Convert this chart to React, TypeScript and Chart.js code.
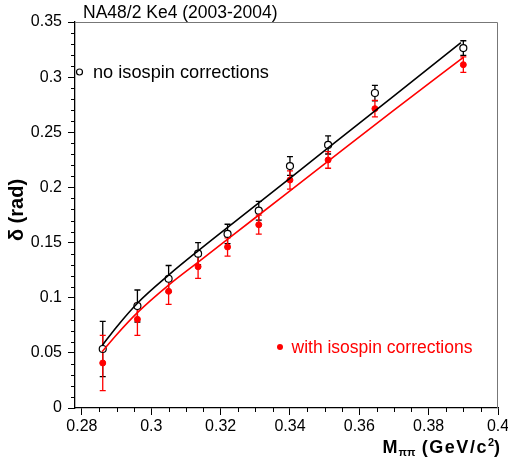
import React, { useEffect, useRef } from "react";
import { Chart, registerables } from "chart.js";
Chart.register(...registerables);

// ---- data ----
const massPoints = [0.286, 0.296, 0.305, 0.3135, 0.322, 0.331, 0.34, 0.351, 0.3645, 0.39];
const deltaNoIso = [0.0535, 0.0925, 0.1172, 0.1399, 0.1578, 0.1789, 0.2194, 0.2385, 0.2856, 0.3264];
const errNoIso = [0.025, 0.0145, 0.012, 0.01, 0.0088, 0.0085, 0.0085, 0.0082, 0.007, 0.0066];
const deltaIso = [0.0408, 0.0804, 0.1058, 0.1281, 0.146, 0.1662, 0.2067, 0.2249, 0.2714, 0.3113];
const errIso = [0.025, 0.0145, 0.0118, 0.0105, 0.0083, 0.0086, 0.0083, 0.0075, 0.0075, 0.007];

const fitNoIsoX = [0.2858, 0.29, 0.296, 0.305, 0.3135, 0.33, 0.35, 0.37, 0.3893];
const fitNoIsoY = [0.0565, 0.0735, 0.095, 0.1205, 0.1425, 0.1835, 0.2333, 0.283, 0.3312];
const fitIsoX = [0.2858, 0.29, 0.296, 0.305, 0.314, 0.33, 0.35, 0.37, 0.39];
const fitIsoY = [0.051, 0.0665, 0.0865, 0.1115, 0.1335, 0.1725, 0.2213, 0.27, 0.318];

const xMajorTicks = [0.28, 0.3, 0.32, 0.34, 0.36, 0.38, 0.4];
const yMajorTicks = [0, 0.05, 0.1, 0.15, 0.2, 0.25, 0.3, 0.35];

const titleText = "NA48/2 Ke4 (2003-2004)";
const legendNoIso = "no isospin corrections";
const legendIso = "with isospin corrections";
const yTitle = "δ (rad)";

const FONT = "'Liberation Sans', Arial, Helvetica, sans-serif";

const decorPlugin = {
  id: "decor",
  beforeDatasetsDraw(chart: any) {
    const ctx = chart.ctx;
    const xs = chart.scales.x;
    const ys = chart.scales.y;
    ctx.save();
    const drawErr = (vals: number[], errs: number[], color: string) => {
      ctx.strokeStyle = color;
      ctx.lineWidth = 1.3;
      massPoints.forEach((m, i) => {
        const px = xs.getPixelForValue(m);
        const top = ys.getPixelForValue(vals[i] + errs[i]);
        const bot = ys.getPixelForValue(vals[i] - errs[i]);
        ctx.beginPath();
        ctx.moveTo(px, top);
        ctx.lineTo(px, bot);
        ctx.moveTo(px - 3, top);
        ctx.lineTo(px + 3, top);
        ctx.moveTo(px - 3, bot);
        ctx.lineTo(px + 3, bot);
        ctx.stroke();
      });
    };
    drawErr(deltaNoIso, errNoIso, "#000");
    drawErr(deltaIso, errIso, "#ff0000");
    ctx.restore();
  },
  afterDraw(chart: any) {
    const ctx = chart.ctx;
    const a = chart.chartArea;
    const xs = chart.scales.x;
    const ys = chart.scales.y;
    ctx.save();
    // frame top/right
    ctx.strokeStyle = "#777";
    ctx.lineWidth = 1;
    ctx.beginPath();
    ctx.moveTo(a.left, a.top + 0.5);
    ctx.lineTo(a.right - 0.5, a.top + 0.5);
    ctx.lineTo(a.right - 0.5, a.bottom);
    ctx.stroke();
    // minor ticks
    ctx.strokeStyle = "#000";
    ctx.beginPath();
    for (let i = 0; i <= 24; i++) {
      if (i % 4 === 0) continue;
      const v = 0.28 + i * 0.005;
      const px = Math.round(xs.getPixelForValue(v)) + 0.5;
      ctx.moveTo(px, a.bottom);
      ctx.lineTo(px, a.bottom + 4);
    }
    for (let i = 0; i <= 35; i++) {
      if (i % 5 === 0) continue;
      const v = i * 0.01;
      const py = Math.round(ys.getPixelForValue(v)) + 0.5;
      ctx.moveTo(a.left, py);
      ctx.lineTo(a.left - 4, py);
    }
    ctx.stroke();

    // title
    ctx.fillStyle = "#000";
    ctx.font = `17.5px ${FONT}`;
    ctx.textAlign = "left";
    ctx.textBaseline = "alphabetic";
    ctx.fillText(titleText, 83, 18);

    // legend: no isospin
    ctx.font = `18.2px ${FONT}`;
    ctx.fillText(legendNoIso, 93, 78);
    ctx.beginPath();
    ctx.arc(79.5, 72, 3, 0, Math.PI * 2);
    ctx.lineWidth = 1.2;
    ctx.strokeStyle = "#000";
    ctx.stroke();

    // legend: with isospin
    ctx.font = `17.5px ${FONT}`;
    ctx.fillStyle = "#ff0000";
    ctx.fillText(legendIso, 291.5, 353);
    ctx.beginPath();
    ctx.arc(280, 347, 3, 0, Math.PI * 2);
    ctx.fill();

    // x-axis title (right aligned)
    ctx.fillStyle = "#000";
    const big = `bold 18px ${FONT}`;
    const small = `bold 11px ${FONT}`;
    const parts: [string, string, number, string][] = [
      ["M", big, 0, "1px"],
      ["ππ", small, 3, "0px"],
      [" (GeV/c", big, 0, "1.5px"],
      ["2", small, -7, "0px"],
      [")", big, 0, "0px"],
    ];
    let total = 0;
    parts.forEach(([t, f, , ls]) => {
      ctx.font = f;
      (ctx as any).letterSpacing = ls;
      total += ctx.measureText(t).width;
    });
    let x = 500 - total;
    const baseY = 453;
    parts.forEach(([t, f, dy, ls]) => {
      ctx.font = f;
      (ctx as any).letterSpacing = ls;
      ctx.fillText(t, x, baseY + dy);
      x += ctx.measureText(t).width;
    });
    (ctx as any).letterSpacing = "0px";

    // y-axis title
    ctx.save();
    ctx.translate(23, 210);
    ctx.rotate(-Math.PI / 2);
    ctx.font = `bold 20px ${FONT}`;
    ctx.textAlign = "center";
    ctx.fillText(yTitle, 0, 0);
    ctx.restore();

    ctx.restore();
  },
};

export default function App() {
  const ref = useRef<HTMLCanvasElement | null>(null);
  useEffect(() => {
    if (!ref.current) return;
    const fmt = (v: number) => String(+Number(v).toFixed(3));
    const chart = new Chart(ref.current, {
      type: "scatter",
      data: {
        datasets: [
          {
            label: "fit no iso",
            data: fitNoIsoX.map((x, i) => ({ x, y: fitNoIsoY[i] })),
            showLine: true,
            borderColor: "#000",
            borderWidth: 1.6,
            pointRadius: 0,
            cubicInterpolationMode: "monotone",
          },
          {
            label: "fit iso",
            data: fitIsoX.map((x, i) => ({ x, y: fitIsoY[i] })),
            showLine: true,
            borderColor: "#ff0000",
            borderWidth: 1.6,
            pointRadius: 0,
            cubicInterpolationMode: "monotone",
          },
          {
            label: legendIso,
            data: massPoints.map((x, i) => ({ x, y: deltaIso[i] })),
            pointRadius: 3,
            pointBackgroundColor: "#ff0000",
            pointBorderColor: "#ff0000",
            pointBorderWidth: 1,
          },
          {
            label: legendNoIso,
            data: massPoints.map((x, i) => ({ x, y: deltaNoIso[i] })),
            pointRadius: 3.5,
            pointBackgroundColor: "#fff",
            pointBorderColor: "#000",
            pointBorderWidth: 1.2,
          },
        ],
      },
      options: {
        animation: false,
        responsive: false,
        layout: { padding: { top: 22, right: 10, left: 0, bottom: 0 } },
        plugins: { legend: { display: false }, tooltip: { enabled: false } },
        scales: {
          x: {
            type: "linear",
            min: 0.278,
            max: 0.4,
            afterBuildTicks: (s: any) => {
              s.ticks = xMajorTicks.map((v) => ({ value: v }));
            },
            afterFit: (s: any) => {
              s.height = 52;
              s.paddingLeft = 0;
              s.paddingRight = 0;
            },
            ticks: {
              callback: (v: any) => fmt(v),
              color: "#000",
              font: { family: FONT, size: 16 },
              padding: 2,
              maxRotation: 0,
              autoSkip: false,
            },
            grid: { drawOnChartArea: false, drawTicks: true, tickLength: 7, color: "#000" },
            border: { display: true, color: "#000", width: 1.3 },
          },
          y: {
            type: "linear",
            min: 0,
            max: 0.35,
            afterBuildTicks: (s: any) => {
              s.ticks = yMajorTicks.map((v) => ({ value: v }));
            },
            afterFit: (s: any) => {
              s.width = 75;
              s.paddingTop = 0;
              s.paddingBottom = 0;
            },
            ticks: {
              callback: (v: any) => fmt(v),
              color: "#000",
              font: { family: FONT, size: 16 },
              padding: 6,
              autoSkip: false,
            },
            grid: { drawOnChartArea: false, drawTicks: true, tickLength: 7, color: "#000" },
            border: { display: true, color: "#000", width: 1.3 },
          },
        },
      },
      plugins: [decorPlugin],
    } as any);
    return () => chart.destroy();
  }, []);
  return (
    <div style={{ position: "absolute", left: 0, top: 0, width: 508, height: 460, background: "#fff" }}>
      <canvas ref={ref} width={508} height={460} />
    </div>
  );
}
